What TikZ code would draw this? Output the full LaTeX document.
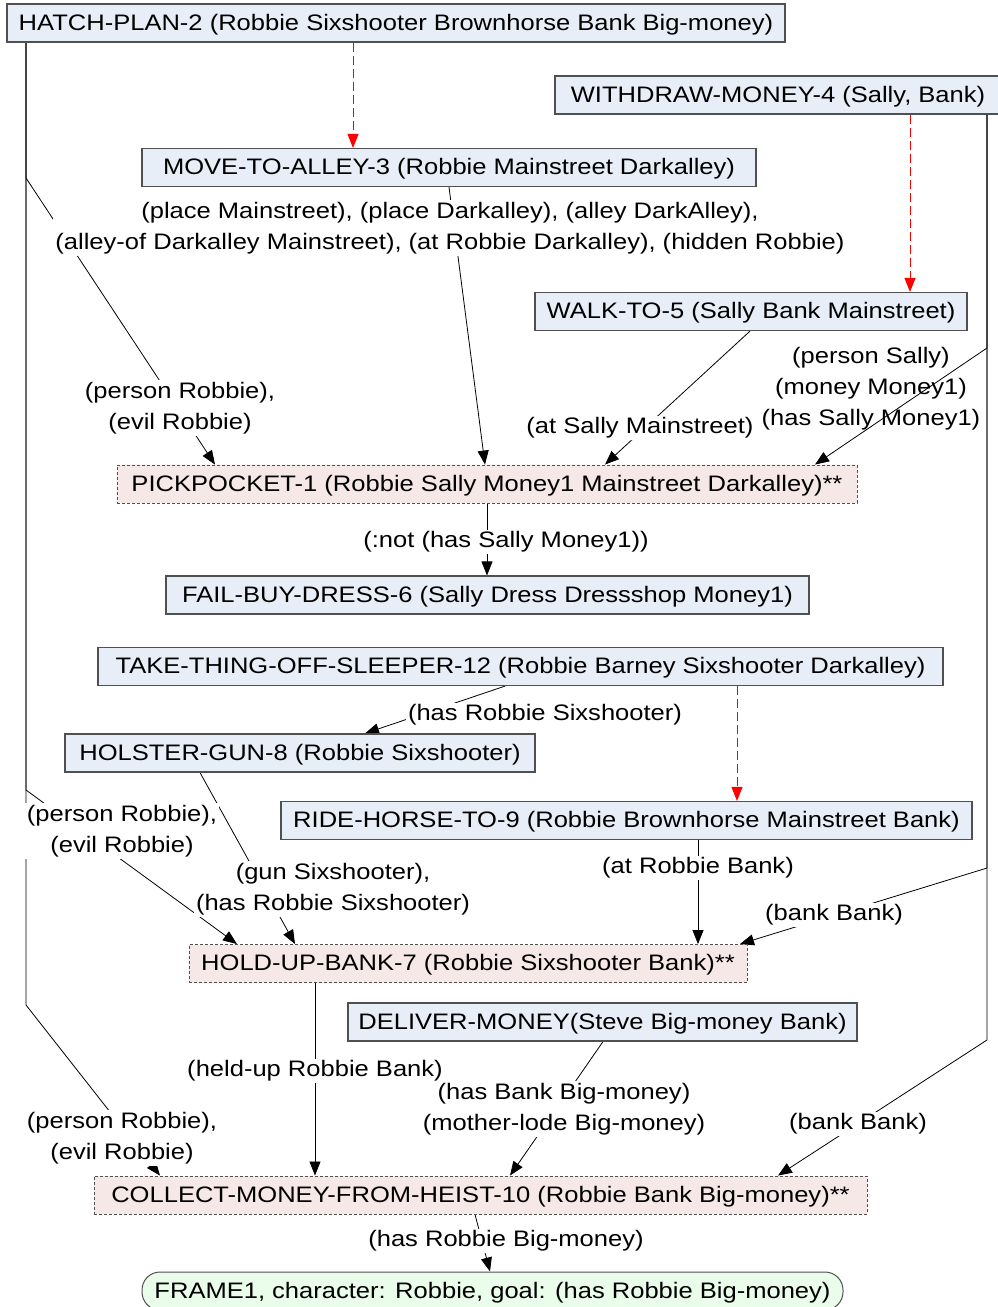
\documentclass[tikz,border=0pt]{standalone}
\usepackage{fontspec}
\setmainfont{Liberation Sans}[FakeStretch=1.14]
\usetikzlibrary{arrows.meta}
\definecolor{actfill}{RGB}{232,238,247}
\definecolor{keyfill}{RGB}{247,232,232}
\definecolor{goalfill}{RGB}{234,252,234}
\definecolor{boxline}{RGB}{80,80,80}
\pgfdeclarelayer{edges}
\pgfdeclarelayer{front}
\pgfsetlayers{edges,main,front}

\begin{document}
\begin{tikzpicture}[x=1pt,y=-1pt,
  every node/.style={font=\fontsize{22.4}{31}\selectfont, inner sep=0pt},
  stepbase/.style={minimum height=38pt, text height=17.5pt, text depth=2.8pt},
  action/.style={stepbase, draw=boxline, line width=1.2pt, fill=actfill},
  keyact/.style={stepbase, draw=boxline, line width=0.9pt, dash pattern=on 3pt off 2pt, fill=keyfill},
  goalbox/.style={stepbase, draw=boxline, line width=1pt, fill=goalfill, rounded corners=18pt},
  cond/.style={fill=white, align=center, inner sep=2pt},
  link/.style={draw=black, line width=0.8pt, -{Triangle[length=14pt,width=11pt]}},
  order/.style={draw=red, line width=1pt, dash pattern=on 9pt off 4pt, -{Triangle[length=14pt,width=11pt]}},
]
\useasboundingbox (0,0) rectangle (998,1307);

% plan steps
\node[action, minimum width=778pt] (hatch) at (396,23) {HATCH-PLAN-2 (Robbie Sixshooter Brownhorse Bank Big-money)};
\node[action, minimum width=446pt] (withdraw) at (778,95) {WITHDRAW-MONEY-4 (Sally, Bank)};
\node[action, minimum width=614pt] (moveto) at (449,167.5) {MOVE-TO-ALLEY-3 (Robbie Mainstreet Darkalley)};
\node[action, minimum width=432pt] (walkto) at (751,311.5) {WALK-TO-5 (Sally Bank Mainstreet)};
\node[keyact, minimum width=740pt] (pickpocket) at (487,484) {PICKPOCKET-1 (Robbie Sally Money1 Mainstreet Darkalley)**};
\node[action, minimum width=643pt] (failbuy) at (487.5,595) {FAIL-BUY-DRESS-6 (Sally Dress Dressshop Money1)};
\node[action, minimum width=845pt] (takething) at (520.5,666.5) {TAKE-THING-OFF-SLEEPER-12 (Robbie Barney Sixshooter Darkalley)};
\node[action, minimum width=470pt] (holster) at (300,753) {HOLSTER-GUN-8 (Robbie Sixshooter)};
\node[action, minimum width=691pt] (ride) at (626.5,820.5) {RIDE-HORSE-TO-9 (Robbie Brownhorse Mainstreet Bank)};
\node[keyact, minimum width=558pt] (holdup) at (468,963.5) {HOLD-UP-BANK-7 (Robbie Sixshooter Bank)**};
\node[action, minimum width=509pt] (deliver) at (602.5,1022) {DELIVER-MONEY(Steve Big-money Bank)};
\node[keyact, minimum width=773pt] (collect) at (480.5,1195) {COLLECT-MONEY-FROM-HEIST-10 (Robbie Bank Big-money)**};
\node[goalbox, minimum width=701pt] (frame) at (492.5,1291) {FRAME1, character: Robbie, goal: (has Robbie Big-money)};

% condition labels
\node[cond] (lmove) at (450,228) {(place Mainstreet), (place Darkalley), (alley DarkAlley),\\(alley-of Darkalley Mainstreet), (at Robbie Darkalley), (hidden Robbie)};
\node[cond] (lpa) at (180,408) {(person Robbie),\\(evil Robbie)};
\node[cond] (lwalk) at (640,428) {(at Sally Mainstreet)};
\node[align=center] (lsally) at (871,389) {(person Sally)\\(money Money1)\\(has Sally Money1)};
\node[cond] (lnot) at (506,542) {(:not (has Sally Money1))};
\node[cond] (lsix) at (545,715) {(has Robbie Sixshooter)};
\node[cond] (lpb) at (122,831) {(person Robbie),\\(evil Robbie)};
\node[cond] (lgun) at (333,889) {(gun Sixshooter),\\(has Robbie Sixshooter)};
\node[cond] (lat) at (698,868) {(at Robbie Bank)};
\node[cond] (lbanka) at (834,915) {(bank Bank)};
\node[cond] (lheld) at (315,1071) {(held-up Robbie Bank)};
\node[cond] (ldel) at (564,1109) {(has Bank Big-money)\\(mother-lode Big-money)};
\node[cond] (lpc) at (122,1138) {(person Robbie),\\(evil Robbie)};
\node[cond] (lbankb) at (858,1124) {(bank Bank)};
\node[cond] (lgoal) at (506,1241) {(has Robbie Big-money)};

% connectors
\begin{pgfonlayer}{edges}
\draw[order] (353,0 |- hatch.south) -- (353,0 |- moveto.north);
\draw[order] (910,0 |- withdraw.south) -- (910,0 |- walkto.north);
\draw[order] (737,0 |- takething.south) -- (737,0 |- ride.north);

\draw[link] (449,0 |- moveto.south) -- (485,0 |- pickpocket.north);
\draw[link] (26,0 |- hatch.south) -- (26,178) -- (215,0 |- pickpocket.north);
\draw[link] (26,0 |- hatch.south) -- (26,790) -- (237,0 |- holdup.north);
\draw[link] (26,0 |- hatch.south) -- (26,1005) -- (160,0 |- collect.north);
\draw[link] (987,0 |- withdraw.south) -- (987,868) -- (740,0 |- holdup.north);
\draw[link] (987,0 |- withdraw.south) -- (987,1040) -- (778,0 |- collect.north);
\draw[link] (750,0 |- walkto.south) -- (605,0 |- pickpocket.north);
\draw[link] (487,0 |- pickpocket.south) -- (487,0 |- failbuy.north);
\draw[link] (505,0 |- takething.south) -- (365,0 |- holster.north);
\draw[link] (200,0 |- holster.south) -- (295,0 |- holdup.north);
\draw[link] (698,0 |- ride.south) -- (698,0 |- holdup.north);
\draw[link] (315,0 |- holdup.south) -- (315,0 |- collect.north);
\draw[link] (603,0 |- deliver.south) -- (510,0 |- collect.north);
\draw[link] (475,0 |- collect.south) -- (490,0 |- frame.north);
\end{pgfonlayer}

\begin{pgfonlayer}{front}
\draw[link] (987,0 |- withdraw.south) -- (987,348) -- (815,0 |- pickpocket.north);
\end{pgfonlayer}
\end{tikzpicture}
\end{document}
